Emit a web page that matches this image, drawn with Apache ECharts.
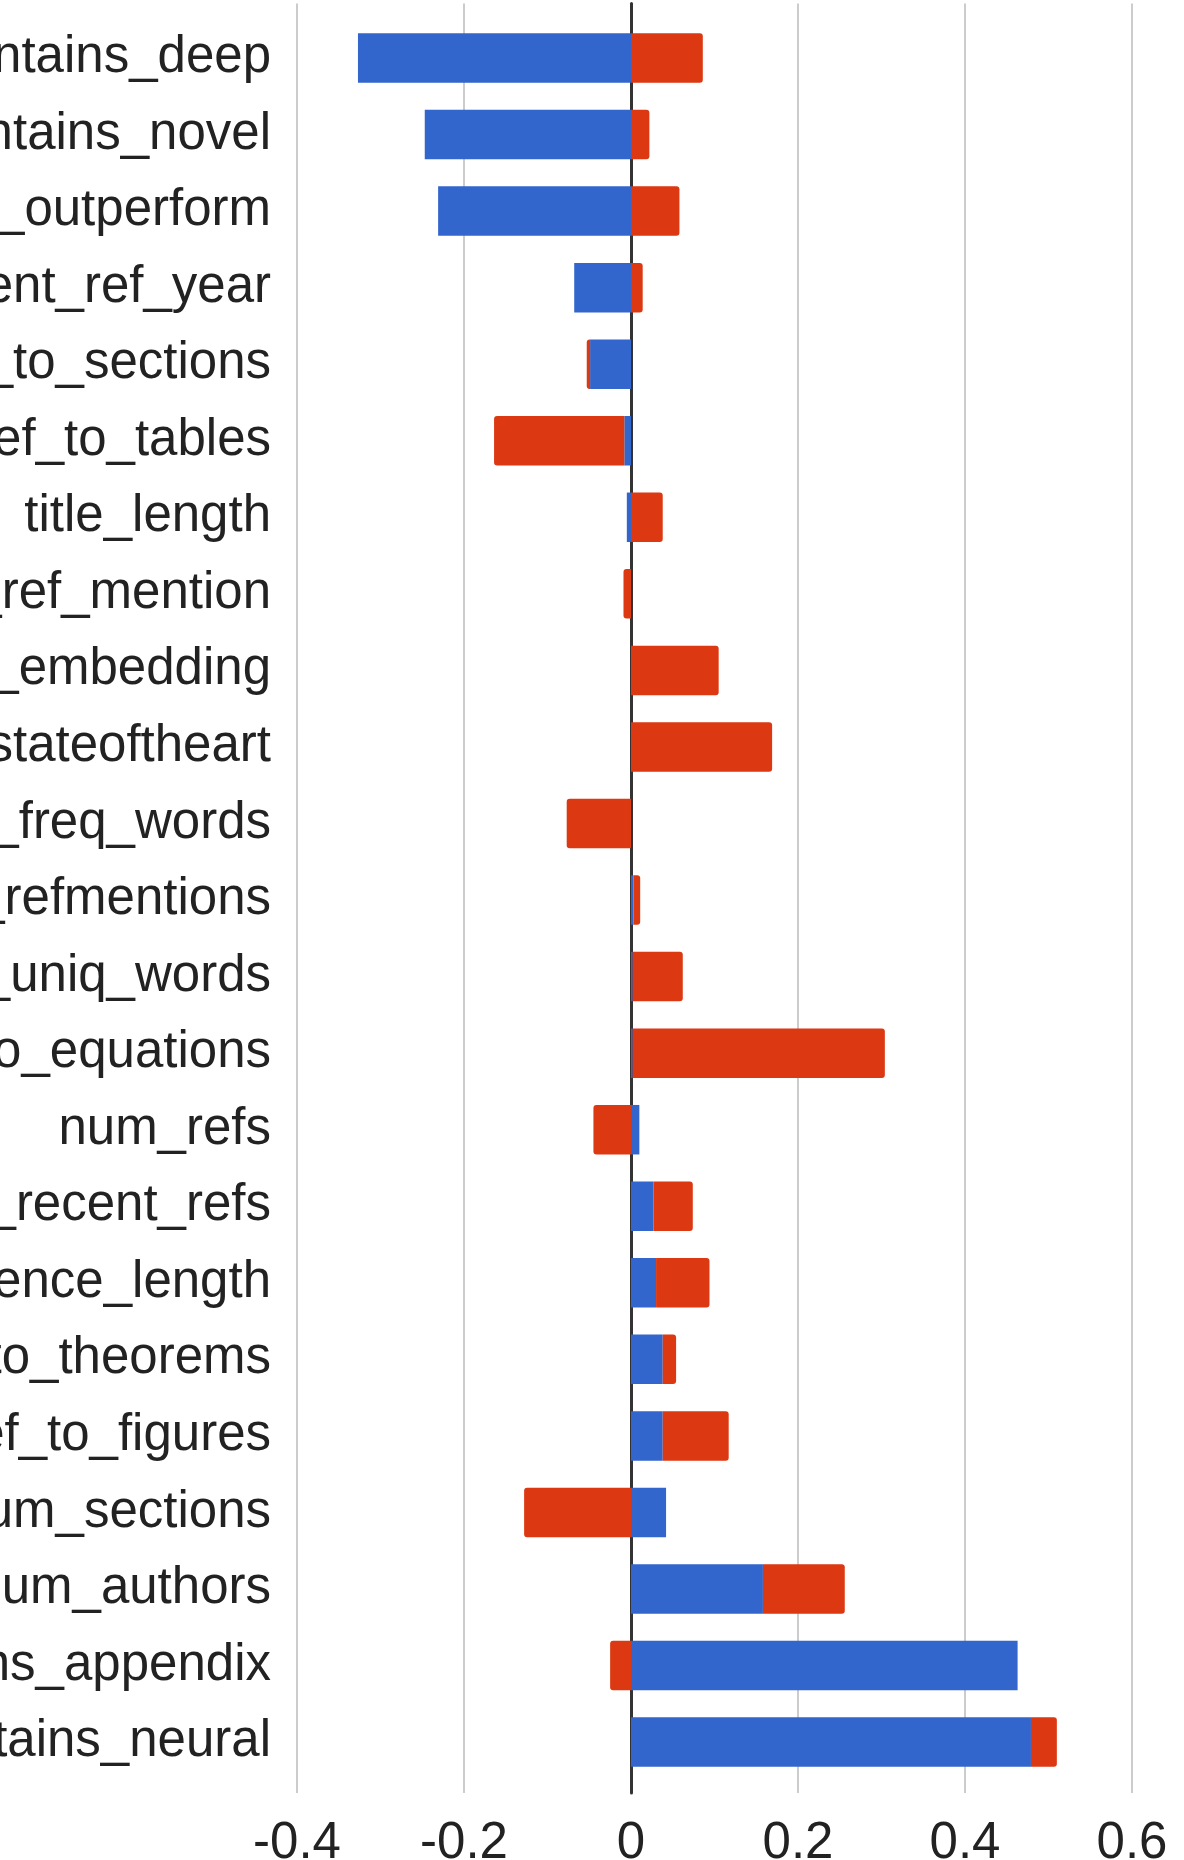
<!DOCTYPE html>
<html>
<head>
<meta charset="utf-8">
<script src="https://cdn.jsdelivr.net/npm/echarts@6/dist/echarts.min.js"></script>
<style>
  html, body { margin: 0; padding: 0; background: #fff; }
  #chart { width: 1184px; height: 1860px; }
</style>
</head>
<body>
<div id="chart"></div>
<script>
// feature names, top to bottom
const features = [
  'abstract_contains_deep',
  'abstract_contains_novel',
  'abstract_contains_outperform',
  'most_recent_ref_year',
  'num_ref_to_sections',
  'num_ref_to_tables',
  'title_length',
  'avg_len_ref_mention',
  'abstract_contains_embedding',
  'abstract_contains_stateoftheart',
  'proportion_of_freq_words',
  'num_refmentions',
  'num_uniq_words',
  'num_ref_to_equations',
  'num_refs',
  'num_recent_refs',
  'avg_sentence_length',
  'num_ref_to_theorems',
  'num_ref_to_figures',
  'num_sections',
  'num_authors',
  'contains_appendix',
  'abstract_contains_neural'
]
// blue part
const blueValues = [-0.327, -0.247, -0.231, -0.068, -0.049, -0.008, -0.005, 0, 0, 0, 0, 0.003, 0.002, 0.002,
  0.010, 0.027, 0.030, 0.038, 0.038, 0.042, 0.158, 0.463, 0.479]
// red part (stacked on top of blue, same sign)
const redValues = [0.086, 0.022, 0.058, 0.014, -0.004, -0.156, 0.038, -0.009, 0.105, 0.169, -0.077, 0.008, 0.060, 0.302,
  -0.045, 0.047, 0.064, 0.016, 0.079, -0.128, 0.098, -0.025, 0.031]
const xTicks = [-0.4, -0.2, 0, 0.2, 0.4, 0.6]

const font = '"Liberation Sans", Arial, sans-serif'
const chart = echarts.init(document.getElementById('chart'))

const option = {
  animation: false,
  backgroundColor: '#fff',
  grid: [
    // bars
    { left: 297, right: 52, top: 19.7, bottom: 79.6, outerBoundsMode: 'none', containLabel: false },
    // gridlines, zero line and tick labels
    { left: 297, right: 52, top: 3.5, bottom: 67, outerBoundsMode: 'none', containLabel: false }
  ],
  xAxis: [
    {
      gridIndex: 0, type: 'value', min: xTicks[0], max: xTicks[xTicks.length - 1], interval: 0.2,
      axisLine: { show: false }, axisTick: { show: false }, axisLabel: { show: false }, splitLine: { show: false }
    },
    {
      gridIndex: 1, type: 'value', min: xTicks[0], max: xTicks[xTicks.length - 1], interval: 0.2,
      axisLine: { show: false }, axisTick: { show: false },
      axisLabel: {
        fontSize: 51, fontFamily: font, color: '#222', margin: 25,
        formatter: v => String(Math.round(v * 10) / 10)
      },
      splitLine: { show: true, lineStyle: { color: '#cccccc', width: 2 } }
    }
  ],
  yAxis: [
    {
      gridIndex: 0, type: 'category', data: features, inverse: true,
      axisLine: { show: false, onZero: false }, axisTick: { show: false },
      axisLabel: { fontSize: 51, fontFamily: font, color: '#222', margin: 26 }
    },
    {
      gridIndex: 1, type: 'value', min: 0, max: 1,
      axisLine: { show: true, onZero: true, lineStyle: { color: '#333', width: 3 } },
      axisTick: { show: false }, axisLabel: { show: false }, splitLine: { show: false }
    }
  ],
  series: [
    {
      name: 'blue', type: 'bar', stack: 'total', xAxisIndex: 0, yAxisIndex: 0,
      barWidth: 49.5,
      itemStyle: { color: '#3366cc' },
      data: blueValues
    },
    {
      name: 'red', type: 'bar', stack: 'total', xAxisIndex: 0, yAxisIndex: 0,
      barWidth: 49.5,
      itemStyle: { color: '#dc3912' },
      // round only the outer end of the red part
      data: redValues.map(v => ({
        value: v,
        itemStyle: { borderRadius: v < 0 ? [3, 0, 0, 3] : [0, 3, 3, 0] }
      }))
    }
  ]
}
chart.setOption(option)
</script>
</body>
</html>
